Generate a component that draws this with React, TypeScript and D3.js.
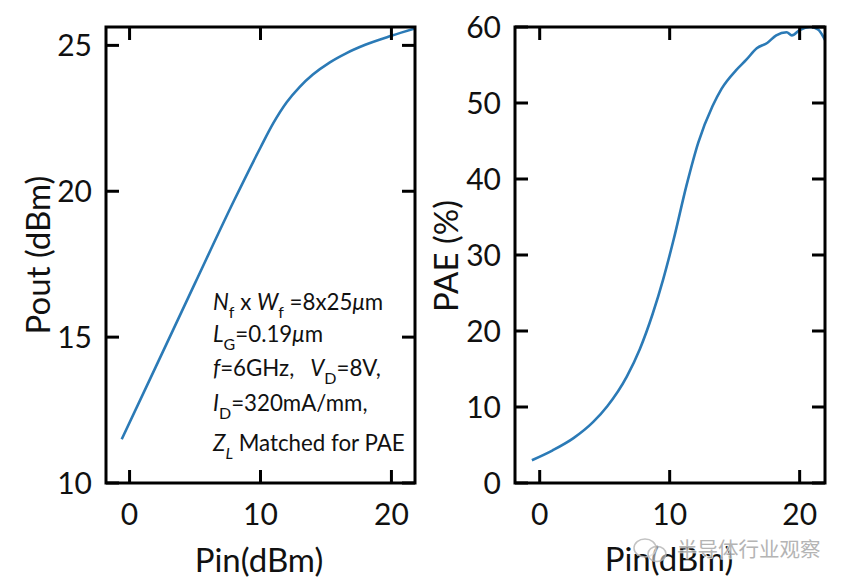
import React from "react";
import * as d3 from "d3";

const pinLeft = [-0.6, 2, 5, 8, 10, 11, 12, 13, 14, 15.3, 16.5, 18, 20, 21.8];
const poutValues = [11.5, 13.98, 16.85, 19.7, 21.5, 22.35, 23.05, 23.58, 24.0, 24.42, 24.72, 25.02, 25.33, 25.58];

const pinRight = [-0.6, 1.0, 2.6, 4.1, 5.2, 6.7, 7.7, 8.7, 9.5, 10.3, 11.3, 12.2, 13.3, 14.0, 15.1, 15.9, 16.7, 17.5, 18.2, 19.0, 19.4, 20.0, 20.8, 21.4, 21.95];
const paeValues = [3.0, 4.3, 5.9, 8.0, 10.1, 14.0, 17.6, 22.3, 26.8, 32.0, 39.2, 44.8, 49.6, 51.9, 54.3, 55.7, 57.2, 57.9, 58.9, 59.3, 58.9, 59.6, 60.0, 59.7, 58.3];

const xTicks = [0, 10, 20];
const poutTicks = [10, 15, 20, 25];
const paeTicks = [0, 10, 20, 30, 40, 50, 60];

const FONT = "Lato, 'Open Sans', sans-serif";
const LINE = "#2b7ab6";
const TICK = 13;

type PanelProps = {
  left: number;
  right: number;
  top: number;
  bottom: number;
  xDomain: [number, number];
  yDomain: [number, number];
  yTicks: number[];
  xs: number[];
  ys: number[];
  id: string;
};

function Panel({ left, right, top, bottom, xDomain, yDomain, yTicks, xs, ys, id }: PanelProps) {
  const x = d3.scaleLinear().domain(xDomain).range([left, right]);
  const y = d3.scaleLinear().domain(yDomain).range([bottom, top]);
  const line = d3
    .line<number>()
    .x((_, i) => x(xs[i]))
    .y((d) => y(d))
    .curve(d3.curveMonotoneX);
  return (
    <g>
      <defs>
        <clipPath id={id}>
          <rect x={left} y={top} width={right - left} height={bottom - top} />
        </clipPath>
      </defs>
      <path d={line(ys) || ""} fill="none" stroke={LINE} strokeWidth={2.6} clipPath={`url(#${id})`} />
      <rect x={left} y={top} width={right - left} height={bottom - top} fill="none" stroke="#000" strokeWidth={3} />
      {xTicks.map((t) => (
        <g key={"x" + t}>
          <line x1={x(t)} x2={x(t)} y1={bottom} y2={bottom - TICK} stroke="#000" strokeWidth={3} />
          <line x1={x(t)} x2={x(t)} y1={top} y2={top + TICK} stroke="#000" strokeWidth={3} />
          <text x={x(t)} y={bottom + 42} textAnchor="middle" fontFamily={FONT} fontSize={30} fill="#111">
            {t}
          </text>
        </g>
      ))}
      {yTicks.map((t) => (
        <g key={"y" + t}>
          <line x1={left} x2={left + TICK} y1={y(t)} y2={y(t)} stroke="#000" strokeWidth={3} />
          <line x1={right} x2={right - TICK} y1={y(t)} y2={y(t)} stroke="#000" strokeWidth={3} />
          <text x={left - 14} y={y(t)} dy="0.36em" textAnchor="end" fontFamily={FONT} fontSize={30} fill="#111">
            {t}
          </text>
        </g>
      ))}
    </g>
  );
}

export default function App() {
  const sub = { fontSize: 16 };
  return (
    <svg width={849} height={585} style={{ position: "absolute", left: 0, top: 0, background: "#fff" }}>
      <rect width={849} height={585} fill="#fff" />
      <Panel left={106} right={415} top={27} bottom={483} xDomain={[-1.8, 21.8]} yDomain={[10, 25.63]} yTicks={poutTicks} xs={pinLeft} ys={poutValues} id="c1" />
      <Panel left={515} right={825} top={27} bottom={483} xDomain={[-1.9, 21.95]} yDomain={[0, 60]} yTicks={paeTicks} xs={pinRight} ys={paeValues} id="c2" />

      <text transform="translate(50,255) rotate(-90)" textAnchor="middle" fontFamily={FONT} fontSize={33} fill="#111">
        Pout (dBm)
      </text>
      <text transform="translate(458,256) rotate(-90)" textAnchor="middle" fontFamily={FONT} fontSize={33} fill="#111">
        PAE (%)
      </text>
      <text x={259} y={572} textAnchor="middle" fontFamily={FONT} fontSize={33} fill="#111">
        Pin(dBm)
      </text>
      <text x={669} y={571} textAnchor="middle" fontFamily={FONT} fontSize={33} fill="#111">
        Pin(dBm)
      </text>

      <g fontFamily={FONT} fontSize={22.3} fill="#111">
        <text x={213} y={310}>
          <tspan fontStyle="italic">N</tspan>
          <tspan dy={8} style={sub}>f</tspan>
          <tspan dy={-8}> x </tspan>
          <tspan fontStyle="italic">W</tspan>
          <tspan dy={8} style={sub}>f</tspan>
          <tspan dy={-8}> =8x25</tspan>
          <tspan fontStyle="italic">μ</tspan>
          <tspan>m</tspan>
        </text>
        <text x={213} y={342}>
          <tspan fontStyle="italic">L</tspan>
          <tspan dy={8} style={sub}>G</tspan>
          <tspan dy={-8}>=0.19</tspan>
          <tspan fontStyle="italic">μ</tspan>
          <tspan>m</tspan>
        </text>
        <text x={213} y={376}>
          <tspan fontStyle="italic">f</tspan>
          <tspan>=6GHz,</tspan>
          <tspan dx={16} fontStyle="italic">V</tspan>
          <tspan dy={8} style={sub}>D</tspan>
          <tspan dy={-8}>=8V,</tspan>
        </text>
        <text x={213} y={411}>
          <tspan fontStyle="italic">I</tspan>
          <tspan dy={8} style={sub}>D</tspan>
          <tspan dy={-8}>=320mA/mm,</tspan>
        </text>
        <text x={213} y={451}>
          <tspan fontStyle="italic">Z</tspan>
          <tspan dy={8} style={sub} fontStyle="italic">L</tspan>
          <tspan dy={-8}> Matched for PAE</tspan>
        </text>
      </g>

      <g opacity={0.85}>
        <ellipse cx={645} cy={548} rx={11} ry={9} fill="none" stroke="#b8b8b8" strokeWidth={1.5} />
        <ellipse cx={657} cy={554} rx={9} ry={7.5} fill="#fff" fillOpacity={0.6} stroke="#b8b8b8" strokeWidth={1.5} />
        <text
          x={677}
          y={557}
          fontFamily="'Noto Sans CJK SC', sans-serif"
          fontSize={20.5}
          fill="#a8a8a8"
          stroke="#ffffff"
          strokeWidth={1.5}
          paintOrder="stroke"
        >
          半导体行业观察
        </text>
      </g>
    </svg>
  );
}
